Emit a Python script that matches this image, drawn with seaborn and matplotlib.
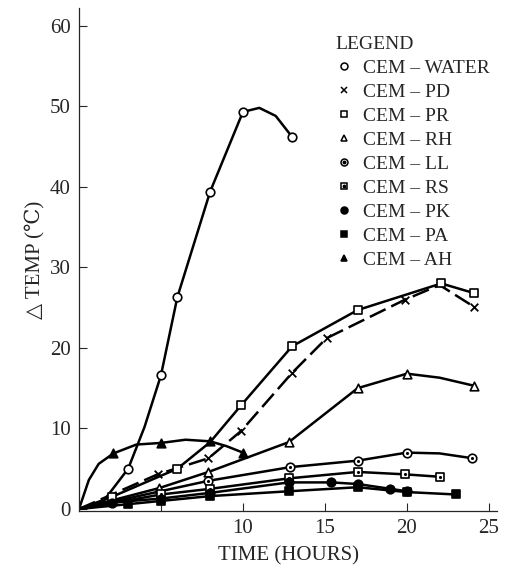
import numpy as np
import pandas as pd
import matplotlib
matplotlib.use("Agg")
import matplotlib.pyplot as plt
import seaborn as sns
from matplotlib.lines import Line2D

# Series names (legend order)
SERIES = ["CEM – WATER", "CEM – PD", "CEM – PR", "CEM – RH", "CEM – LL",
          "CEM – RS", "CEM – PK", "CEM – PA", "CEM – AH"]

# Marked points (hours, delta temp)
water_t = [3, 5, 6, 8, 10, 13]
water_v = [5.0, 16.6, 26.3, 39.4, 49.3, 46.2]
pd_t = [4.8, 7.9, 9.9, 13, 15.1, 19.9, 24.1]
pd_v = [4.3, 6.3, 9.7, 16.9, 21.2, 26.0, 25.1]
pr_t = [2, 6, 9.9, 13, 17, 22.1, 24.1]
pr_v = [1.5, 5.0, 12.9, 20.2, 24.7, 28.0, 26.8]
rh_t = [4.9, 7.9, 12.8, 17, 20, 24.1]
rh_v = [2.6, 4.6, 8.3, 15.0, 16.8, 15.3]
ll_t = [7.9, 12.9, 17, 20, 24]
ll_v = [3.5, 5.2, 6.0, 7.0, 6.3]
rs_t = [5, 8, 12.8, 17, 19.9, 22]
rs_v = [1.8, 2.5, 3.8, 4.6, 4.3, 4.0]
pk_t = [2, 5, 8, 12.8, 15.4, 17, 19, 20]
pk_v = [0.8, 1.3, 2.0, 3.3, 3.3, 3.1, 2.5, 2.2]
pa_t = [3, 5, 8, 12.8, 17, 20, 23]
pa_v = [0.6, 1.0, 1.6, 2.2, 2.7, 2.1, 1.8]
ah_t = [2.1, 5, 8, 10]
ah_v = [6.9, 8.2, 8.4, 7.0]

# Extra unmarked points
water_ct = [0, 1.5, 4, 11, 12]
water_cv = [0, 1.0, 10.2, 49.8, 48.8]
pd_ct = [0, 22]
pd_cv = [0, 27.8]
pr_ct = [0, 8]
pr_cv = [0, 8.3]
rh_ct = [0, 22]
rh_cv = [0, 16.3]
ll_ct = [0, 22]
ll_cv = [0, 6.9]
rs_ct = [0]
rs_cv = [0]
pk_ct = [0]
pk_cv = [0]
pa_ct = [0]
pa_cv = [0]
ah_ct = [0, 0.6, 1.2, 3.5, 6.5, 9]
ah_cv = [0, 3.6, 5.6, 8.0, 8.6, 7.8]

marks = [(water_t, water_v), (pd_t, pd_v), (pr_t, pr_v), (rh_t, rh_v), (ll_t, ll_v),
         (rs_t, rs_v), (pk_t, pk_v), (pa_t, pa_v), (ah_t, ah_v)]
curves = [(water_ct, water_cv), (pd_ct, pd_cv), (pr_ct, pr_cv), (rh_ct, rh_cv), (ll_ct, ll_cv),
          (rs_ct, rs_cv), (pk_ct, pk_cv), (pa_ct, pa_cv), (ah_ct, ah_cv)]

# marker style per series: (marker, face, dot inside)
styles = dict(zip(SERIES, [
    ("o", "white", False),
    ("x", "black", False),
    ("s", "white", False),
    ("^", "white", False),
    ("o", "white", True),
    ("s", "white", True),
    ("o", "black", False),
    ("s", "black", False),
    ("^", "black", False),
]))

rows = []
for name, (mt, mv), (ct, cv) in zip(SERIES, marks, curves):
    for t, v in zip(list(mt) + list(ct), list(mv) + list(cv)):
        rows.append({"series": name, "time": t, "temp": v})
line_df = pd.DataFrame(rows).sort_values(["series", "time"])

sns.set_style("ticks")
plt.rcParams["font.family"] = ["Liberation Serif", "DejaVu Serif", "DejaVu Sans"]

fig = plt.figure(figsize=(5.16, 5.73), dpi=100)
ax = fig.add_axes([79 / 516, 62 / 573, 418 / 516, 503 / 573])

dashes = {n: "" for n in SERIES}
dashes["CEM – PD"] = (7, 2.5)
sns.lineplot(data=line_df, x="time", y="temp", hue="series", style="series",
             palette={n: "black" for n in SERIES}, dashes=dashes, estimator=None,
             sort=True, lw=1.8, legend=False, ax=ax)

handles = []
for name, (mt, mv) in zip(SERIES, marks):
    mk, face, dot = styles[name]
    size = 38 if mk != "x" else 30
    if mk == "x":
        sns.scatterplot(x=mt, y=mv, marker="x", color="black", s=size, linewidth=1.3,
                        ax=ax, zorder=4, legend=False)
    else:
        sns.scatterplot(x=mt, y=mv, marker=mk, color=face, edgecolor="black", s=size,
                        linewidth=1.2, ax=ax, zorder=4, legend=False)
    if dot:
        sns.scatterplot(x=mt, y=mv, marker="o", color="black", s=5, linewidth=0,
                        ax=ax, zorder=5, legend=False)
    h = Line2D([], [], ls="", marker=mk, ms=5, mfc=face, mec="black", mew=1.1, color="black")
    if dot:
        h = (h, Line2D([], [], ls="", marker="o", ms=1.8, color="black"))
    handles.append(h)

ax.set_xlim(0, 25.5)
ax.set_ylim(-0.25, 62.2)
ax.set_xticks([5, 10, 15, 20, 25])
ax.set_xticklabels(["", "10", "15", "20", "25"])
ax.set_yticks([0, 10, 20, 30, 40, 50, 60])
ax.tick_params(direction="in", length=6, width=0.8, labelsize=15, pad=6)
sns.despine(ax=ax)
for s in ["left", "bottom"]:
    ax.spines[s].set_linewidth(0.9)

ax.set_xlabel("TIME (HOURS)", fontsize=15, labelpad=6)
ax.set_ylabel("△ TEMP (℃)", fontsize=15, labelpad=4)

leg = ax.legend(handles, SERIES, title="LEGEND", frameon=False, loc="upper left",
                bbox_to_anchor=(322 / 516, 1 - 22 / 573), bbox_transform=fig.transFigure,
                fontsize=14, title_fontsize=14, labelspacing=0.33, handlelength=0.9,
                handletextpad=0.5, borderpad=0.2, alignment="left")

fig.savefig("out.png", dpi=100)
